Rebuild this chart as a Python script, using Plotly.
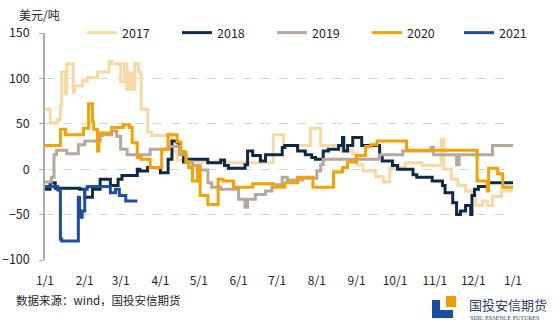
import plotly.graph_objects as go
import pandas as pd

# ---------------- data (day of year, 0 = 1 Jan; value in USD/t) ----------------
day_2017 = [0, 4, 10, 12, 13, 16, 17, 22, 23, 29, 33, 41, 50, 52, 59, 62, 64, 66, 68, 70, 73, 75,
            80, 83, 96, 99, 103, 110, 143, 178, 186, 207, 215, 232, 240, 243, 248, 258, 264, 269,
            281, 294, 309, 311, 317, 322, 328, 333, 336, 341, 345, 349, 356, 365]
val_2017 = [66, 51, 55, 70, 107, 83, 116, 85, 92, 97, 101, 107, 119, 116, 96, 116, 88, 106, 88, 116, 107, 66,
            41, 37, 39, 20, 10, 8, 7, 38, 26, 45, 26, 20, 17, 5, -2, -8, -14, 2,
            7, 4, 33, 0, -11, -18, -24, -29, -40, -35, -40, -30, -24, -24]

day_2018 = [0, 4, 8, 27, 31, 37, 43, 51, 57, 60, 72, 74, 80, 90, 96, 99, 103, 105, 108, 111,
            127, 137, 140, 143, 156, 158, 162, 168, 172, 185, 187, 197, 203, 208, 211, 217, 221,
            229, 232, 233, 236, 240, 247, 261, 263, 271, 275, 287, 290, 302, 310, 312, 318, 321,
            324, 328, 332, 333, 335, 338, 345, 365]
val_2018 = [-22, -15, -21, -22, -31, -22, -11, -18, -11, -7, 0, -2, 2, -4, 11, 31, 29, 19, 8, 11,
            7, 10, 4, 1, 5, 20, 15, 9, 16, 24, 26, 20, 16, 13, 11, 20, 22,
            26, 35, 20, 26, 35, 26, 13, 9, 4, 0, -6, -9, -13, -18, -26, -37, -50,
            -46, -40, -50, -29, -22, -19, -15, -15]

day_2019 = [0, 5, 7, 9, 17, 26, 31, 43, 45, 52, 56, 59, 64, 82, 96, 105, 110, 115, 121, 127,
            130, 137, 151, 156, 158, 164, 172, 177, 185, 189, 201, 212, 215, 217, 261, 279, 301,
            303, 321, 323, 349, 365]
val_2019 = [-14, -9, 16, 21, 17, 27, 31, 37, 38, 42, 36, 22, 16, 22, 25, 16, 8, 4, -1, -15,
            -20, -22, -33, -42, -33, -28, -24, -17, -9, -12, -10, -2, 5, 11, 16, 20, 24,
            16, 5, 16, 26, 26]

day_2020 = [0, 12, 16, 30, 34, 37, 38, 41, 42, 52, 61, 66, 68, 72, 75, 82, 91, 96, 103, 106,
            110, 112, 115, 119, 121, 127, 135, 139, 147, 162, 178, 187, 197, 209, 225, 232, 236,
            243, 250, 254, 259, 282, 337, 345, 346, 353, 357, 365]
val_2020 = [26, 44, 38, 45, 72, 52, 44, 20, 40, 46, 49, 46, 29, 13, 11, 2, 22, 38, 30, 19,
            8, 2, -13, 2, -29, -39, -11, -13, -20, -16, -20, -15, -9, -20, -3, 2, 8,
            15, 25, 27, 31, 21, -13, -24, 1, -5, -20, -20]

day_2021 = [0, 10, 12, 13, 25, 26, 27, 29, 31, 33, 51, 55, 58, 63, 72]
val_2021 = [-19, -23, -77, -79, -79, -31, -53, -46, -22, -19, -26, -22, -29, -35, -35]

years = ["2017", "2018", "2019", "2020", "2021"]
days = [day_2017, day_2018, day_2019, day_2020, day_2021]
values = [val_2017, val_2018, val_2019, val_2020, val_2021]
colors = ["#F7D9A3", "#0E2A47", "#B5A89F", "#F5A100", "#1C4FA3"]

tick_labels = ["1/1", "2/1", "3/1", "4/1", "5/1", "6/1", "7/1", "8/1", "9/1", "10/1", "11/1", "12/1", "1/1"]

BASE = pd.Timestamp("2021-01-01")
month_ticks = pd.date_range("2021-01-01", "2022-01-01", freq="MS")

# ---------------- figure ----------------
W, H = 554, 328
L, R, T, B = 45, 41, 33, 68
PW, PH = W - L - R, H - T - B

def px_x(px):
    return (px - L) / PW

def px_y(py):
    return (H - B - py) / PH

FONT = "Noto Sans CJK SC, Microsoft YaHei, sans-serif"
TXT = "#262626"

fig = go.Figure()
for i, (yr, d, v, c) in enumerate(zip(years, days, values, colors)):
    fig.add_trace(go.Scatter(
        x=BASE + pd.to_timedelta(d, unit="D"), y=v, name=yr, mode="lines",
        line=dict(color=c, width=3, shape="hv"), hoverinfo="skip",
        legend="legend" if i < 4 else "legend2"))

legend_style = dict(orientation="h", xanchor="left", y=1.0, yanchor="middle",
                    bgcolor="rgba(0,0,0,0)", font=dict(size=12.5, color=TXT),
                    itemwidth=30, entrywidth=50, entrywidthmode="pixels", tracegroupgap=0)

ymin, ymax = -100, 150
fig.update_layout(
    width=W, height=H, autosize=False,
    margin=dict(l=L, r=R, t=T, b=B, pad=0, autoexpand=False),
    paper_bgcolor="white", plot_bgcolor="white",
    font=dict(family=FONT, size=12, color=TXT),
    showlegend=True,
    legend=dict(x=px_x(82), **legend_style),
    legend2=dict(x=px_x(459), **legend_style),
    xaxis=dict(type="date", range=[month_ticks[0], month_ticks[-1]],
               tickvals=month_ticks, ticktext=tick_labels,
               showgrid=False, showline=False, zeroline=False,
               ticks="outside", ticklen=10, tickcolor="rgba(0,0,0,0)",
               tickfont=dict(size=12, color=TXT)),
    xaxis2=dict(type="date", overlaying="x", matches="x", anchor="free",
                position=(0 - ymin) / (ymax - ymin),
                tickvals=month_ticks, showticklabels=False,
                showgrid=False, zeroline=False,
                showline=True, linecolor="#ABABAB", linewidth=1.5,
                ticks="inside", ticklen=5, tickcolor="#ABABAB", tickwidth=1),
    yaxis=dict(range=[ymin, ymax], dtick=50, tick0=0,
               showgrid=True, gridcolor="#D6D6D6", griddash="dash", gridwidth=1,
               zeroline=False, showline=True, linecolor="#ABABAB", linewidth=1.5,
               ticks="outside", ticklen=4, tickcolor="#ABABAB", ticklabelstandoff=7,
               tickfont=dict(size=12.5, color=TXT)),
)

# axis unit label
fig.add_annotation(text="美元/吨", xref="paper", yref="paper", x=px_x(17), y=px_y(14),
                   xanchor="left", yanchor="middle", showarrow=False,
                   font=dict(size=12, color=TXT))
# source
fig.add_annotation(text="数据来源：wind，国投安信期货", xref="paper", yref="paper",
                   x=px_x(14), y=px_y(300), xanchor="left", yanchor="middle", showarrow=False,
                   font=dict(size=11.5, color=TXT))
# logo text
fig.add_annotation(text="国投安信期货", xref="paper", yref="paper",
                   x=px_x(467), y=px_y(304), xanchor="left", yanchor="middle", showarrow=False,
                   font=dict(size=13, color="#2B3F6B"))
fig.add_annotation(text="SDIC ESSENCE FUTURES", xref="paper", yref="paper",
                   x=px_x(468), y=px_y(318), xanchor="left", yanchor="middle", showarrow=False,
                   font=dict(size=6, color="#2B3F6B", family="Liberation Serif"))
# logo icon
fig.add_shape(type="rect", xref="paper", yref="paper", x0=px_x(432), x1=px_x(453),
              y0=px_y(318), y1=px_y(300), fillcolor="#1B4E9E", line_width=0, layer="above")
fig.add_shape(type="rect", xref="paper", yref="paper", x0=px_x(440), x1=px_x(453),
              y0=px_y(310), y1=px_y(300), fillcolor="white", line_width=0, layer="above")
fig.add_shape(type="rect", xref="paper", yref="paper", x0=px_x(446), x1=px_x(456),
              y0=px_y(307), y1=px_y(296), fillcolor="#F29A00", line_width=0, layer="above")

fig.write_html("out.html", config={"displayModeBar": False})
